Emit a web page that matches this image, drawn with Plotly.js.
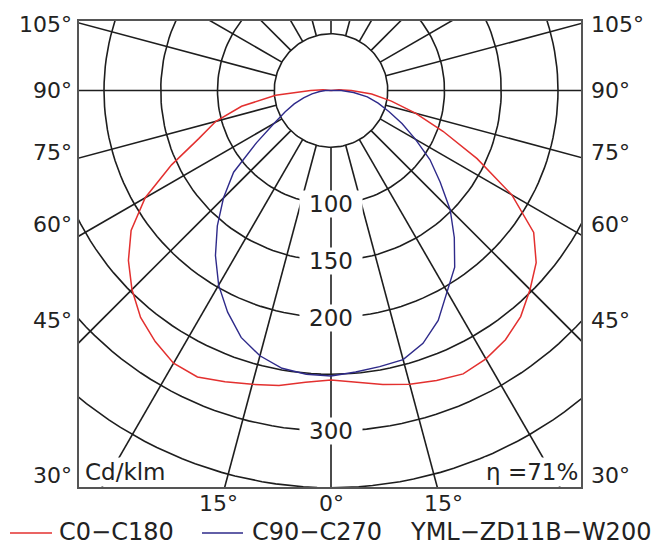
<!DOCTYPE html>
<html><head><meta charset="utf-8">
<script src="https://cdn.plot.ly/plotly-3.0.1.min.js"></script>
<style>html,body{margin:0;padding:0;background:#fff}</style>
</head><body><div id="chart" style="width:655px;height:545px"></div>
<script>
// ---- data ----
const gammaAngles = [0,5,10,15,20,25,30,35,40,45,50,55,60,65,70,75,80,85,90,95,100];
const c0   = [255,258,263,268,272,275.5,273,268,260,248,236,218,184,142,105,77,54,36,18,7,0];
const c180 = [255,258,264,268,273,278.5,277.5,270,261,248,233,215,189,155,124,105,80,49,18,7,0];
const c90  = [251.5,249,247,245.5,237,223.5,204.5,190,169,148.5,125.5,106.5,86,69,54.5,43,32.5,20,9,3,0];
const c270 = [251.5,251,248.5,242,231.5,215.5,198,177.5,155.8,134,112,80,58,44.5,34.5,25,17,10,5,2,0];
const circleValues = [50,100,150,200,250,300,350];
const rayAngles = [0,15,30,45,60,75,90,105,120,135,150,165,180,195,210,225,240,255,270,285,300,315,330,345];
const sideLabels = ['105°','90°','75°','60°','45°','30°'];
const bottomLabels = ['15°','0°','15°'];
const radialLabels = [100,150,200,300];
const seriesNames = ['C0\u2212C180','C90\u2212C270'];
const modelName = 'YML\u2212ZD11B\u2212W200';
const unitLabel = 'Cd/klm';
const efficiencyLabel = '\u03b7 =71%';

// ---- styling / geometry ----
const RED = '#e3302f', BLUE = '#2e2a8a', GRID = '#1e1e1e', TXT = '#222';
const FONT = 'DejaVu Sans';
const L = 79, R = 581, T = 21, B = 487;
const PXU = 1.135; // px per cd/klm
const CX = 331, CY = 90.5;
const px2x = p => (p - L) / (R - L);
const py2y = p => (B - p) / (B - T);
const rad = d => d * Math.PI / 180;

function polarXY(r, gammaDeg, side) {
  return [side * r * Math.sin(rad(gammaDeg)), -r * Math.cos(rad(gammaDeg))];
}
function curve(leftVals, rightVals) {
  const xs = [], ys = [];
  for (let i = gammaAngles.length - 1; i >= 0; i--) {
    const p = polarXY(leftVals[i], gammaAngles[i], -1); xs.push(p[0]); ys.push(p[1]);
  }
  for (let i = 1; i < gammaAngles.length; i++) {
    const p = polarXY(rightVals[i], gammaAngles[i], 1); xs.push(p[0]); ys.push(p[1]);
  }
  return {xs, ys};
}

// grid circles
const gcx = [], gcy = [];
circleValues.forEach(v => {
  for (let a = 0; a <= 360; a += 2) { gcx.push(v * Math.sin(rad(a))); gcy.push(-v * Math.cos(rad(a))); }
  gcx.push(null); gcy.push(null);
});
// rays
const grx = [], gry = [];
rayAngles.forEach(a => {
  const p1 = polarXY(circleValues[0], a, 1), p2 = polarXY(600, a, 1);
  grx.push(p1[0], p2[0], null); gry.push(p1[1], p2[1], null);
});

const red = curve(c180, c0), blue = curve(c270, c90);

const traces = [
  {x: gcx, y: gcy, mode: 'lines', line: {color: GRID, width: 1.6}, showlegend: false, hoverinfo: 'skip'},
  {x: grx, y: gry, mode: 'lines', line: {color: GRID, width: 1.6}, showlegend: false, hoverinfo: 'skip'},
  {x: red.xs, y: red.ys, mode: 'lines', name: seriesNames[0], line: {color: RED, width: 1.5}, showlegend: false},
  {x: blue.xs, y: blue.ys, mode: 'lines', name: seriesNames[1], line: {color: BLUE, width: 1.4}, showlegend: false}
];

const ann = [];
const sideY = [25, 90, 153, 225, 320, 475];
sideLabels.forEach((t, i) => {
  ann.push({text: t, xref: 'paper', yref: 'paper', x: px2x(74), y: py2y(sideY[i]), xanchor: 'right', yanchor: 'middle', showarrow: false, font: {family: FONT, size: 22, color: TXT}});
  ann.push({text: t, xref: 'paper', yref: 'paper', x: px2x(589), y: py2y(sideY[i]), xanchor: 'left', yanchor: 'middle', showarrow: false, font: {family: FONT, size: 22, color: TXT}});
});
const bottomX = [218, 331, 443];
bottomLabels.forEach((t, i) => {
  ann.push({text: t, xref: 'paper', yref: 'paper', x: px2x(bottomX[i]), y: py2y(503), xanchor: 'center', yanchor: 'middle', showarrow: false, font: {family: FONT, size: 22, color: TXT}});
});
radialLabels.forEach(v => {
  ann.push({text: String(v), xref: 'x', yref: 'y', x: 0, y: -v, xanchor: 'center', yanchor: 'middle', showarrow: false, bgcolor: '#fff', width: 62, height: 26, borderpad: 0, font: {family: FONT, size: 23, color: TXT}});
});
ann.push({text: unitLabel, xref: 'paper', yref: 'paper', x: px2x(83), y: py2y(472), xanchor: 'left', yanchor: 'middle', showarrow: false, bgcolor: '#fff', borderpad: 1, font: {family: FONT, size: 23, color: TXT}});
ann.push({text: efficiencyLabel, xref: 'paper', yref: 'paper', x: px2x(580), y: py2y(472), xanchor: 'right', yanchor: 'middle', showarrow: false, bgcolor: '#fff', borderpad: 1, font: {family: FONT, size: 23, color: TXT}});
// legend
ann.push({text: seriesNames[0], xref: 'paper', yref: 'paper', x: px2x(57), y: py2y(532), xanchor: 'left', yanchor: 'middle', showarrow: false, font: {family: FONT, size: 24, color: TXT}});
ann.push({text: seriesNames[1], xref: 'paper', yref: 'paper', x: px2x(250), y: py2y(532), xanchor: 'left', yanchor: 'middle', showarrow: false, font: {family: FONT, size: 24, color: TXT}});
ann.push({text: modelName, xref: 'paper', yref: 'paper', x: px2x(408), y: py2y(532), xanchor: 'left', yanchor: 'middle', showarrow: false, font: {family: FONT, size: 24, color: TXT}});

const shapes = [
  {type: 'line', xref: 'paper', yref: 'paper', x0: px2x(10), x1: px2x(52), y0: py2y(533), y1: py2y(533), line: {color: RED, width: 1.5}},
  {type: 'line', xref: 'paper', yref: 'paper', x0: px2x(202), x1: px2x(243), y0: py2y(533), y1: py2y(533), line: {color: BLUE, width: 1.5}}
];

const axisCommon = {showgrid: false, zeroline: false, showticklabels: false, ticks: '', showline: true, mirror: true, linecolor: '#555', linewidth: 2, fixedrange: true};
const layout = {
  width: 655, height: 545, autosize: false,
  margin: {l: L, r: 655 - R, t: T, b: 545 - B, pad: 0},
  paper_bgcolor: '#fff', plot_bgcolor: '#fff',
  xaxis: Object.assign({range: [-(CX - L) / PXU, (R - CX) / PXU]}, axisCommon),
  yaxis: Object.assign({range: [-(B - CY) / PXU, (CY - T) / PXU]}, axisCommon),
  annotations: ann, shapes: shapes, showlegend: false, hovermode: false
};
Plotly.newPlot('chart', traces, layout, {displayModeBar: false, staticPlot: true});
</script>
</body></html>
